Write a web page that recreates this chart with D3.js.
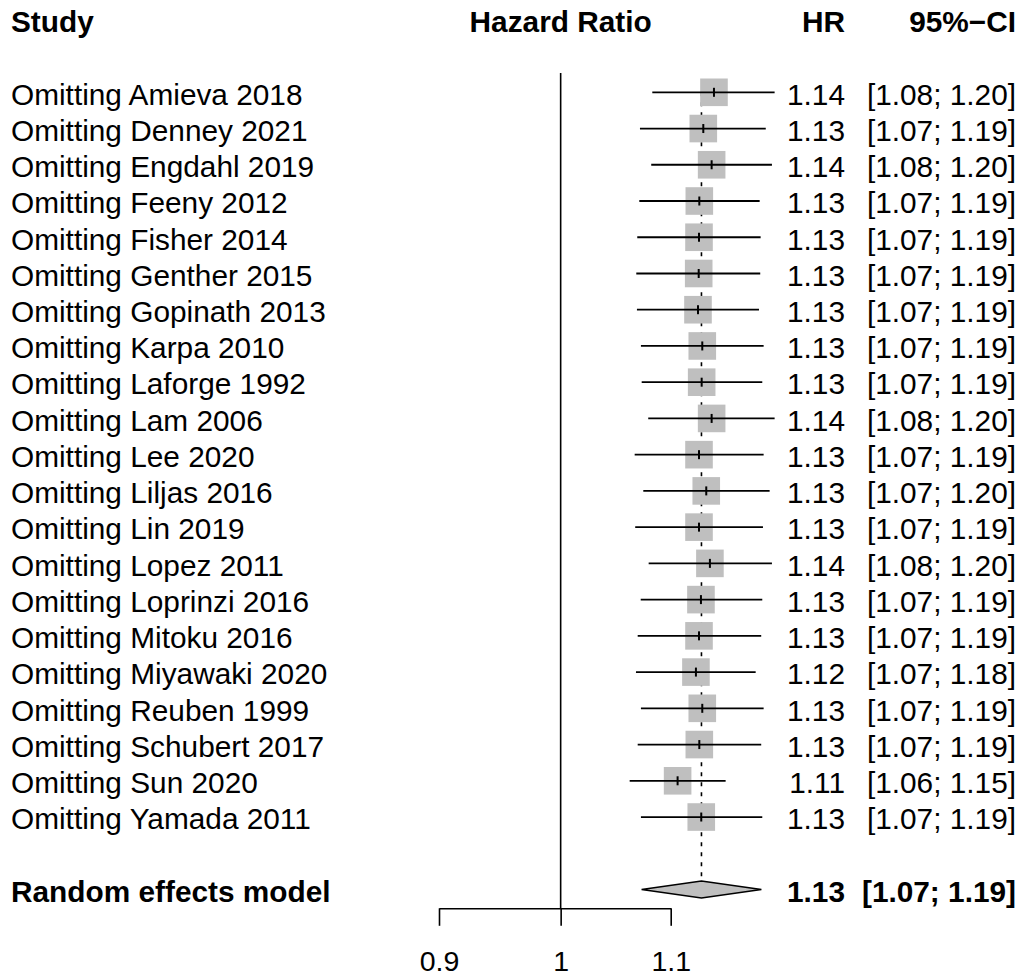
<!DOCTYPE html>
<html>
<head>
<meta charset="utf-8">
<script src="https://cdn.jsdelivr.net/npm/d3@7"></script>
<style>
  body { margin: 0; background: #fff; }
  text { font-family: "Liberation Sans", Arial, Helvetica, sans-serif; }
</style>
</head>
<body>
<div id="forest"></div>
<script>
// datos (leave-one-out)
const studies = ['Amieva 2018', 'Denney 2021', 'Engdahl 2019', 'Feeny 2012', 'Fisher 2014',
  'Genther 2015', 'Gopinath 2013', 'Karpa 2010', 'Laforge 1992', 'Lam 2006', 'Lee 2020',
  'Liljas 2016', 'Lin 2019', 'Lopez 2011', 'Loprinzi 2016', 'Mitoku 2016', 'Miyawaki 2020',
  'Reuben 1999', 'Schubert 2017', 'Sun 2020', 'Yamada 2011'];
const hr = [1.142, 1.1315, 1.1397, 1.1276, 1.1273, 1.127, 1.1263, 1.1305, 1.1299, 1.1397, 1.1273,
  1.1344, 1.1273, 1.138, 1.1292, 1.1273, 1.1243, 1.1305, 1.1276, 1.1066, 1.1295];
const lower = [1.0826, 1.0711, 1.0816, 1.0705, 1.0686, 1.0677, 1.0683, 1.072, 1.0727, 1.0788, 1.0662,
  1.0742, 1.0667, 1.0792, 1.0718, 1.069, 1.0674, 1.072, 1.069, 1.0616, 1.072];
const upper = [1.2036, 1.1944, 1.2008, 1.1881, 1.1891, 1.1887, 1.1874, 1.1922, 1.1908, 1.2036, 1.1922,
  1.1984, 1.1915, 1.2008, 1.1908, 1.1897, 1.184, 1.1922, 1.1897, 1.1536, 1.1908];
const pooled = { hr: 1.1297, lower: 1.0726, upper: 1.1899 };
const tickValues = [0.9, 1, 1.1];

const width = 1021;
const height = 978;
const fontSize = 29.8;
const sqSize = 27.6;
const grey = '#bfbfbf';

const svg = d3.select('#forest')
  .append('svg')
  .attr('width', width)
  .attr('height', height);

// escalas
const x = d3.scaleLog().domain([0.9, 1.1]).range([439, 670.7]);
const y = d3.scaleLinear().domain([0, 22]).range([92.3, 889.5]);
const fmt = d3.format('.2f');

const xStudy = 11;
const xHR = 845;
const xCI = 1016;
const base = 12.3; // desplazamiento a la línea base del texto

// cabecera
const header = svg.append('g').attr('class', 'header')
  .attr('font-weight', 'bold').attr('font-size', fontSize);
header.append('text').attr('x', xStudy).attr('y', y(-2) + base).text('Study');
header.append('text').attr('x', x(1)).attr('y', y(-2) + base)
  .attr('text-anchor', 'middle').text('Hazard Ratio');
header.append('text').attr('x', xHR).attr('y', y(-2) + base)
  .attr('text-anchor', 'end').text('HR');
header.append('text').attr('x', xCI).attr('y', y(-2) + base)
  .attr('text-anchor', 'end').text('95%\u2212CI');

// línea de no efecto y línea del efecto combinado
svg.append('line')
  .attr('x1', x(1)).attr('x2', x(1))
  .attr('y1', 73).attr('y2', 908.3)
  .attr('stroke', '#000').attr('stroke-width', 1.6);

svg.append('line')
  .attr('x1', x(pooled.hr)).attr('x2', x(pooled.hr))
  .attr('y1', y(0)).attr('y2', y(22) - 9)
  .attr('stroke', '#000').attr('stroke-width', 1.6)
  .attr('stroke-dasharray', '4,6');

const rows = studies.map((s, i) => ({ name: s, hr: hr[i], lo: lower[i], hi: upper[i], i: i }));

const row = svg.selectAll('.row')
  .data(rows)
  .enter()
  .append('g')
  .attr('class', 'row');

row.append('rect')
  .attr('x', d => x(d.hr) - sqSize / 2)
  .attr('y', d => y(d.i) - sqSize / 2)
  .attr('width', sqSize)
  .attr('height', sqSize)
  .attr('fill', grey);

row.append('line')
  .attr('x1', d => x(d.lo)).attr('x2', d => x(d.hi))
  .attr('y1', d => y(d.i)).attr('y2', d => y(d.i))
  .attr('stroke', '#000').attr('stroke-width', 1.8);

row.append('line')
  .attr('x1', d => x(d.hr)).attr('x2', d => x(d.hr))
  .attr('y1', d => y(d.i) - 4.5).attr('y2', d => y(d.i) + 4.5)
  .attr('stroke', '#000').attr('stroke-width', 2);

row.append('text')
  .attr('x', xStudy).attr('y', d => y(d.i) + base)
  .attr('font-size', fontSize)
  .text(d => `Omitting ${d.name}`);

row.append('text')
  .attr('x', xHR).attr('y', d => y(d.i) + base)
  .attr('font-size', fontSize).attr('text-anchor', 'end')
  .text(d => fmt(d.hr));

row.append('text')
  .attr('x', xCI).attr('y', d => y(d.i) + base)
  .attr('font-size', fontSize).attr('text-anchor', 'end')
  .text(d => `[${fmt(d.lo)}; ${fmt(d.hi)}]`);

// modelo de efectos aleatorios
const yp = y(22);
const diamond = [[x(pooled.lower), yp], [x(pooled.hr), yp - 8.5], [x(pooled.upper), yp], [x(pooled.hr), yp + 8.5]];
svg.append('path')
  .attr('d', d3.line()(diamond) + 'Z')
  .attr('fill', grey)
  .attr('stroke', '#000')
  .attr('stroke-width', 1.3);

const pool = svg.append('g').attr('font-weight', 'bold').attr('font-size', fontSize);
pool.append('text').attr('x', xStudy).attr('y', yp + base).text('Random effects model');
pool.append('text').attr('x', xHR).attr('y', yp + base).attr('text-anchor', 'end').text(fmt(pooled.hr));
pool.append('text').attr('x', xCI).attr('y', yp + base).attr('text-anchor', 'end')
  .text(`[${fmt(pooled.lower)}; ${fmt(pooled.upper)}]`);

// eje
const axis = d3.axisBottom(x)
  .tickValues(tickValues)
  .tickFormat(d => String(d))
  .tickSize(17.5)
  .tickSizeOuter(0)
  .tickPadding(30);

const gAxis = svg.append('g')
  .attr('transform', 'translate(0, 908.3)')
  .call(axis);
gAxis.select('.domain').attr('stroke-width', 1.6);
gAxis.selectAll('.tick line').attr('stroke-width', 1.6);
gAxis.selectAll('.tick text')
  .attr('font-size', 28.5)
  .attr('font-family', '"Liberation Sans", Arial, sans-serif')
  .attr('dy', null)
  .attr('y', 63);
</script>
</body>
</html>
